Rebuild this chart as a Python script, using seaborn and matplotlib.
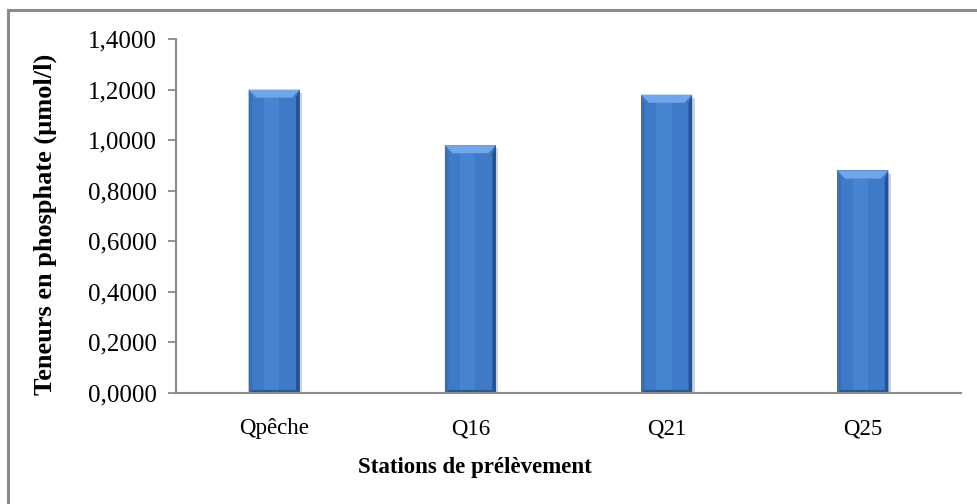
import matplotlib
matplotlib.use("Agg")
import matplotlib.pyplot as plt
from matplotlib.patches import Rectangle, Polygon
from matplotlib.ticker import FuncFormatter
import seaborn as sns
import pandas as pd

# Phosphate content per sampling station
stations = ["Qpêche", "Q16", "Q21", "Q25"]
phosphate = [1.20, 0.98, 1.18, 0.88]
y_ticks = [0.0, 0.2, 0.4, 0.6, 0.8, 1.0, 1.2, 1.4]

df = pd.DataFrame({"station": stations, "phosphate": phosphate})

sns.set_theme(style="white")
plt.rcParams["font.family"] = ["Liberation Serif", "DejaVu Serif"]

W, H = 978, 504
fig = plt.figure(figsize=(W / 100, H / 100), dpi=100)
fig.patch.set_facecolor("white")

# chart frame (runs off the right and bottom edges)
fig.patches.append(Rectangle((8 / W, -0.1), 1.2, (H - 10) / H + 0.1,
                             transform=fig.transFigure, fill=False,
                             edgecolor="#8a8a8a", lw=2.2, zorder=0))

ax = fig.add_axes([176 / W, 1 - 393 / H, (961 - 176) / W, (393 - 39) / H])
ax.set_facecolor("none")

sns.barplot(data=df, x="station", y="phosphate", color="#3e7ac7",
            saturation=1, width=0.26, ax=ax, zorder=3)

ax.set_ylim(0, 1.4)
ax.set_xlim(-0.5, len(stations) - 0.5)
ax.set_yticks(y_ticks)
ax.yaxis.set_major_formatter(FuncFormatter(lambda v, p: f"{v:.4f}".replace(".", ",")))

# bevelled look on each bar, built from the bar geometry
for bar in ax.patches:
    x0, y0 = bar.get_x(), bar.get_y()
    w, h = bar.get_width(), bar.get_height()
    bar.set_edgecolor("none")
    bw = w * 0.15
    bh = 0.032
    sw = w * 0.07
    sh = 0.012
    # soft shadow on the right
    ax.add_patch(Rectangle((x0 + w, y0), w * 0.05, h - bh * 0.4,
                           facecolor="#cdd1d8", edgecolor="none", zorder=2))
    # centre highlight strip
    ax.add_patch(Rectangle((x0 + w * 0.3, y0 + sh), w * 0.3, h - bh - sh,
                           facecolor="#4784d0", edgecolor="none", zorder=3.5))
    # left facet
    ax.add_patch(Polygon([(x0, y0 + h), (x0 + sw, y0 + h - bh),
                          (x0 + sw, y0 + sh), (x0, y0)],
                         closed=True, facecolor="#3670bd", edgecolor="none", zorder=4))
    # right facet
    ax.add_patch(Polygon([(x0 + w, y0 + h), (x0 + w - sw, y0 + h - bh),
                          (x0 + w - sw, y0 + sh), (x0 + w, y0)],
                         closed=True, facecolor="#24518f", edgecolor="none", zorder=4))
    # bottom facet
    ax.add_patch(Polygon([(x0, y0), (x0 + w, y0),
                          (x0 + w - sw, y0 + sh), (x0 + sw, y0 + sh)],
                         closed=True, facecolor="#2a5795", edgecolor="none", zorder=4))
    # top facet
    ax.add_patch(Polygon([(x0, y0 + h), (x0 + w, y0 + h),
                          (x0 + w - bw, y0 + h - bh), (x0 + bw, y0 + h - bh)],
                         closed=True, facecolor="#72a6e8", edgecolor="none", zorder=4.5))

for side in ["top", "right"]:
    ax.spines[side].set_visible(False)
for side in ["left", "bottom"]:
    ax.spines[side].set_color("#8a8a8a")
    ax.spines[side].set_linewidth(1.5)
ax.spines["bottom"].set_zorder(5)

ax.tick_params(axis="y", direction="out", length=6, width=1.3, color="#8a8a8a",
               pad=8, labelsize=18, labelcolor="black", left=True)
ax.tick_params(axis="x", length=0, pad=18, labelsize=16.5, labelcolor="black")

ax.set_xlabel("")
ax.set_ylabel("Teneurs en phosphate (µmol/l)", fontsize=19, fontweight="bold",
              color="black")
ax.yaxis.set_label_coords(-0.152, 0.475)
fig.text(475 / W, 1 - 467 / H, "Stations de prélèvement", ha="center", va="center",
         fontsize=16.5, fontweight="bold", color="black")

fig.savefig("out.png", dpi=100, facecolor="white")
